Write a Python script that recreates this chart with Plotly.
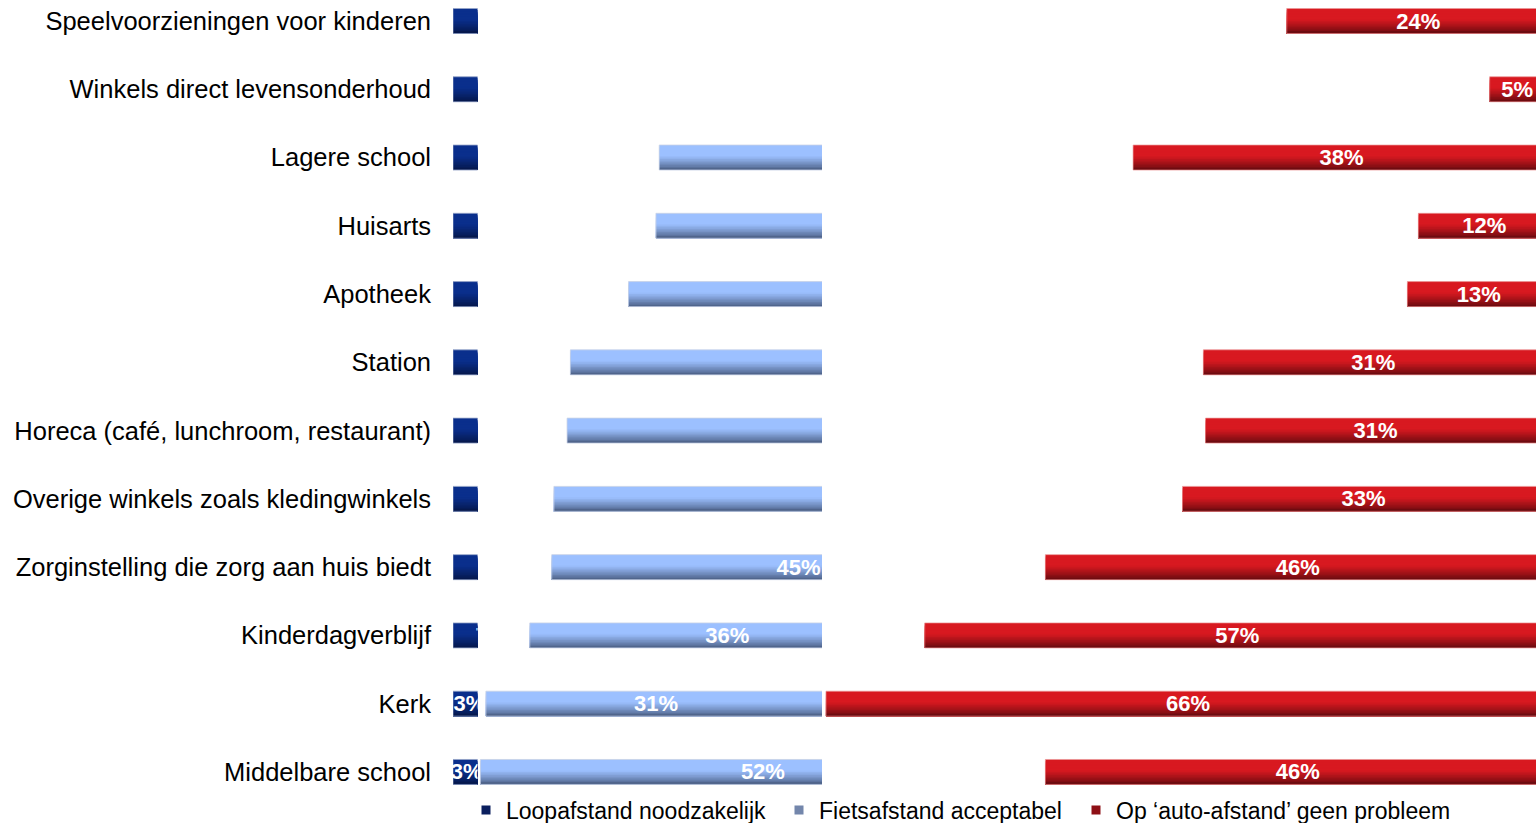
import plotly.graph_objects as go

# Survey: acceptable distance to each facility (% of respondents)
categories = [
    "Speelvoorzieningen voor kinderen",
    "Winkels direct levensonderhoud",
    "Lagere school",
    "Huisarts",
    "Apotheek",
    "Station",
    "Horeca (café, lunchroom, restaurant)",
    "Overige winkels zoals kledingwinkels",
    "Zorginstelling die zorg aan huis biedt",
    "Kinderdagverblijf",
    "Kerk",
    "Middelbare school",
]
loopafstand = [62, 52, 18.8, 18.5, 16, 10.7, 10.4, 9.2, 9, 7, 3, 2.5]
fietsafstand = [14, 42.5, 43.2, 69.5, 71, 57.7, 58.2, 57.3, 45, 36, 31, 51.5]
autoafstand = [24, 5, 38, 12, 13, 31, 31, 33, 46, 57, 66, 46]
series_names = [
    "Loopafstand noodzakelijk",
    "Fietsafstand acceptabel",
    "Op \u2018auto-afstand\u2019 geen probleem",
]

# ---- layout geometry (pixels) ----
W, H = 1536, 823
PX_PER_PCT = 10.97      # horizontal scale shared by all three panels
X_ZERO = 453            # pixel position of 0 %
ROW_PITCH = 68.27       # vertical distance between rows
FIRST_ROW = 21          # centre of the first row
BAR_PX = 25             # bar thickness

# Each series is seen through its own window of the common scale
panels = [(453, 477.5), (478, 822), (822, W)]
# left edge of each legend entry
legend_x = [466, 779, 1076]
LEGEND_Y = 810

FONT = "Liberation Sans, Arial, sans-serif"

# gradient colours (top -> bottom) per series
grad = [
    ((10, 47, 140), (5, 24, 78)),
    ((156, 192, 255), (80, 101, 140)),
    ((216, 25, 32), (110, 11, 16)),
]
edge = ["rgba(150,165,200,0.8)", "rgba(200,210,230,0.8)", "rgba(235,150,150,0.7)"]
legend_colors = ["#0b1f5e", "#7386ab", "#8e1016"]
N_BANDS = 16


def mix(c0, c1, f):
    return "rgb(%d,%d,%d)" % tuple(round(a + (b - a) * f) for a, b in zip(c0, c1))


def shade(t):
    return 0.0 if t < 0.42 else ((t - 0.42) / 0.58) ** 1.15


ypos = list(range(len(categories)))
values = [loopafstand, fietsafstand, autoafstand]
bases = [
    [0] * len(categories),
    list(loopafstand),
    [a + b for a, b in zip(loopafstand, fietsafstand)],
]

thick = BAR_PX / ROW_PITCH
step = thick / N_BANDS

fig = go.Figure()
axis_ids = ["x", "x2", "x3"]
legend_ids = ["legend", "legend2", "legend3"]
for s in range(3):
    c_top, c_bot = grad[s]
    for k in range(N_BANDS):
        t = k / (N_BANDS - 1)
        # every band runs down to the bar bottom, later (darker) bands on top
        fig.add_trace(go.Bar(
            orientation="h",
            y=ypos,
            x=values[s],
            base=bases[s],
            offset=-thick / 2 + k * step,
            width=thick - k * step,
            marker=dict(color=mix(c_top, c_bot, shade(t)), line=dict(width=0)),
            xaxis=axis_ids[s],
            yaxis="y",
            showlegend=False,
            hoverinfo="skip",
        ))
    # outline and value labels, centred on each full bar
    fig.add_trace(go.Bar(
        orientation="h",
        y=ypos,
        x=values[s],
        base=bases[s],
        offset=-thick / 2,
        width=thick,
        marker=dict(color="rgba(0,0,0,0)", line=dict(width=1, color=edge[s])),
        text=["%d%%" % int(v + 0.5) for v in values[s]],
        textposition="inside",
        insidetextanchor="middle",
        constraintext="none",
        cliponaxis=True,
        textfont=dict(family=FONT, size=22, color="white", weight="bold"),
        xaxis=axis_ids[s],
        yaxis="y",
        showlegend=False,
        hoverinfo="skip",
    ))
    # legend entry with a small square swatch
    fig.add_trace(go.Scatter(
        x=[None],
        y=[None],
        mode="markers",
        marker=dict(symbol="square", size=9, color=legend_colors[s]),
        name=series_names[s],
        legend=legend_ids[s],
        xaxis=axis_ids[s],
        yaxis="y",
        showlegend=True,
        hoverinfo="skip",
    ))

layout_extra = {}
for i, (p0, p1) in enumerate(panels):
    key = "xaxis" if i == 0 else "xaxis%d" % (i + 1)
    layout_extra[key] = dict(
        domain=[p0 / W, p1 / W],
        range=[(p0 - X_ZERO) / PX_PER_PCT, (p1 - X_ZERO) / PX_PER_PCT],
        anchor="y",
        visible=False,
        fixedrange=True,
        automargin=False,
    )
for i, lx in enumerate(legend_x):
    layout_extra[legend_ids[i]] = dict(
        orientation="h",
        x=lx / W,
        xanchor="left",
        y=(H - LEGEND_Y) / H,
        yanchor="middle",
        font=dict(family=FONT, size=23, color="black"),
        bgcolor="rgba(0,0,0,0)",
        itemwidth=30,
    )

y_top = -FIRST_ROW / ROW_PITCH
y_bot = (H - FIRST_ROW) / ROW_PITCH

fig.update_layout(
    width=W,
    height=H,
    margin=dict(l=0, r=0, t=0, b=0, autoexpand=False),
    template="none",
    paper_bgcolor="white",
    plot_bgcolor="white",
    barmode="overlay",
    showlegend=True,
    yaxis=dict(
        range=[y_bot, y_top],
        tickmode="array",
        tickvals=ypos,
        ticktext=categories,
        tickfont=dict(family=FONT, size=25.5, color="black"),
        ticks="",
        ticklabelstandoff=21,
        showgrid=False,
        zeroline=False,
        showline=False,
        anchor="x",
        automargin=False,
        fixedrange=True,
    ),
    **layout_extra,
)

fig.write_html("out.html")
